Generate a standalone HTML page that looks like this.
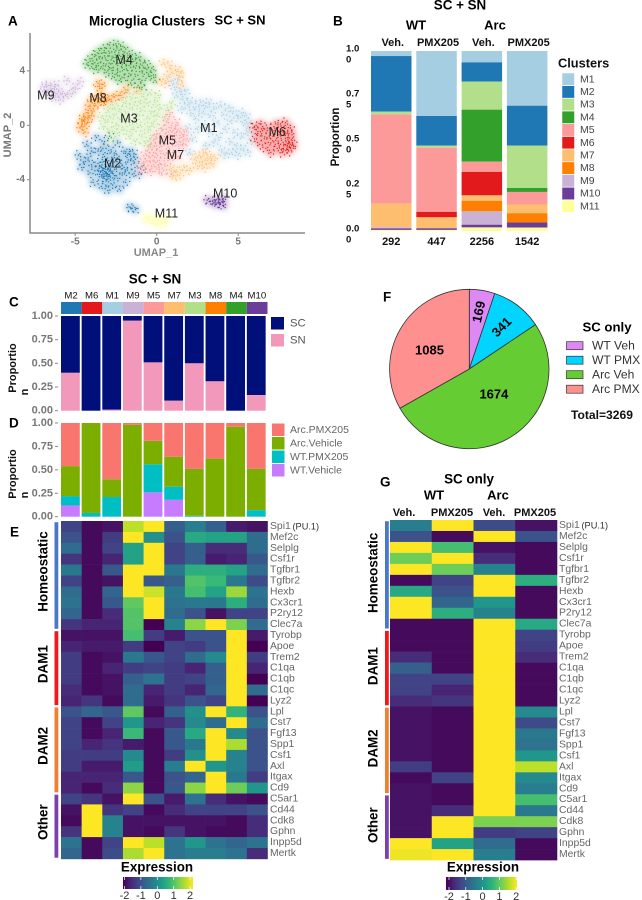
<!DOCTYPE html>
<html lang="en">
<head>
<meta charset="utf-8">
<title>Microglia clusters figure</title>
<style>
html,body{margin:0;padding:0;background:#fff;width:642px;height:900px;overflow:hidden}
svg{display:block;font-family:"Liberation Sans",sans-serif}
.letter{font-size:13.5px;font-weight:bold;fill:#000;dominant-baseline:central}
.title{font-size:13.4px;font-weight:bold;fill:#000;text-anchor:middle;dominant-baseline:central}
.col{font-size:11px;font-weight:bold;fill:#111;text-anchor:middle;dominant-baseline:central}
.gene{font-size:10.4px;fill:#666;dominant-baseline:central}
.leg{font-size:10.5px;fill:#444;dominant-baseline:central}
.tick{font-size:11px;font-weight:bold;fill:#777;text-anchor:end;dominant-baseline:central}
.um{font-size:12.5px;fill:#222;text-anchor:middle;dominant-baseline:central}
.rot{font-size:13.4px;font-weight:bold;fill:#000;text-anchor:middle;dominant-baseline:central}
.ax{font-size:11px;font-weight:bold;fill:#111;text-anchor:middle;dominant-baseline:central}
</style>
</head>
<body>
<svg id="root" xmlns="http://www.w3.org/2000/svg" width="642" height="900" viewBox="0 0 642 900">
<defs>
<linearGradient id="viridis-grad" x1="0" x2="1" y1="0" y2="0"></linearGradient>
<filter id="soft-cloud" x="-5%" y="-5%" width="110%" height="110%"><feGaussianBlur stdDeviation="2.6"/></filter>
<filter id="soft-speck" x="-5%" y="-5%" width="110%" height="110%"><feGaussianBlur stdDeviation="0.35"/></filter>
</defs>
<rect width="642" height="900" fill="#fff"/>

<text class="letter" x="8" y="21">A</text>
<text class="letter" x="333" y="21">B</text>
<text class="letter" x="9" y="302">C</text>
<text class="letter" x="9" y="423">D</text>
<text class="letter" x="10" y="532">E</text>
<text class="letter" x="383" y="297">F</text>
<text class="letter" x="380" y="482">G</text>

<text class="title" x="147" y="21">Microglia Clusters</text>
<text class="title" x="240" y="20" style="font-size:13px">SC + SN</text>
<text x="8" y="135" transform="rotate(-90 8 135)" style="font-size:11px;font-weight:bold;fill:#777;text-anchor:middle;dominant-baseline:central">UMAP_2</text>
<text x="156" y="253" style="font-size:11px;font-weight:bold;fill:#888;text-anchor:middle;dominant-baseline:central">UMAP_1</text>

<text class="title" x="460" y="5">SC + SN</text>
<text class="title" x="416" y="25" style="font-size:13px">WT</text>
<text class="title" x="495" y="25" style="font-size:13px">Arc</text>
<text x="336" y="137" transform="rotate(-90 336 137)" style="font-size:11.5px;font-weight:bold;fill:#111;text-anchor:middle;dominant-baseline:central">Proportion</text>
<text x="558" y="63" style="font-size:12.8px;font-weight:bold;fill:#111;dominant-baseline:central">Clusters</text>

<text class="title" x="155" y="279">SC + SN</text>
<text x="13" y="368" transform="rotate(-90 13 368)" style="font-size:11px;font-weight:bold;fill:#111;text-anchor:middle;dominant-baseline:central">Proportio</text>
<text x="25" y="392" transform="rotate(-90 25 392)" style="font-size:11px;font-weight:bold;fill:#111;text-anchor:middle;dominant-baseline:central">n</text>
<text x="13" y="474" transform="rotate(-90 13 474)" style="font-size:11px;font-weight:bold;fill:#111;text-anchor:middle;dominant-baseline:central">Proportio</text>
<text x="25" y="495" transform="rotate(-90 25 495)" style="font-size:11px;font-weight:bold;fill:#111;text-anchor:middle;dominant-baseline:central">n</text>

<text x="607" y="327" class="title" style="font-size:13.2px">SC only</text>
<text x="571" y="415" style="font-size:12.1px;font-weight:bold;fill:#111;dominant-baseline:central">Total=3269</text>

<text class="title" x="469" y="479">SC only</text>
<text class="title" x="434" y="495" style="font-size:13px">WT</text>
<text class="title" x="498" y="495" style="font-size:13px">Arc</text>

<text class="title" x="157" y="867">Expression</text>
<text class="title" x="483" y="867">Expression</text>

<g id="layer-umap"></g>
<g id="layer-b"></g>
<g id="layer-c"></g>
<g id="layer-d"></g>
<g id="layer-e"></g>
<g id="layer-f"></g>
<g id="layer-g"></g>
</svg>

<script>
/* ---------- data ---------- */
const clusterNames = ['M1','M2','M3','M4','M5','M6','M7','M8','M9','M10','M11'];

const umapM1 = [[0.9,3.2],[1.1,2.8],[1.2,2.2],[1.3,3.4],[1.5,2.6],[1.6,1.9],[1.8,2.5],[1.5,1.2],[1.9,1.5],[2.1,0.9],[2.1,1.8],[2.4,1.3],[2.4,0.5],[2.5,-0.3],[2.7,1.7],[2.8,0.9],[2.9,0],[3,1.4],[3.2,1.7],[3.3,0.7],[3.3,-0.5],[3.5,-1.3],[3.5,1.2],[3.7,0.2],[3.8,-0.9],[3.9,1.5],[4,-1.8],[4.1,0.8],[4.2,-0.3],[4.2,-2.2],[4.4,1.3],[4.5,0.3],[4.5,-1.2],[4.6,-2],[4.7,1],[4.8,-0.5],[4.9,-1.5],[5,0.5],[5,-2.2],[5.2,0.9],[5.2,-0.8],[5.3,-1.7],[5.4,0.1],[5.5,0.7],[5.6,-0.5],[5.6,-2],[5.7,0.2],[5.8,-1.2],[2,-2],[2.2,-1],[1.9,-0.2],[3,-1.5]];
const umapM2 = [[-4.8,-2.2],[-4.6,-3.1],[-4.3,-1.4],[-4.2,-2.4],[-4.1,-3.5],[-3.9,-4.2],[-3.7,-0.9],[-3.6,-1.9],[-3.6,-2.8],[-3.5,-3.6],[-3.4,-4.5],[-3.2,-1.2],[-3.2,-2.3],[-3.2,-3.2],[-3.1,-3.7],[-3.1,-4.1],[-3,-4.8],[-2.9,-0.8],[-2.8,-1.8],[-2.8,-2.7],[-2.8,-3.4],[-2.7,-4.4],[-2.4,-1.3],[-2.4,-2.4],[-2.4,-3.9],[-2.3,-4.7],[-2,-1.9],[-2,-3.1],[-1.9,-4.2],[-1.6,-1.9],[-1.6,-2.6],[-1.5,-3.6],[-1.4,-2.1],[-1.2,-3],[-3.3,-3.5],[-3,-3.2],[-3.4,-3.1],[-3,-3.8],[-3.6,-3.3],[-4.5,-2.7],[-4,-1.9],[-4,-2.9],[-3.3,-1.7],[-3.3,-2.7],[-3.3,-3.9],[-2.6,-2.2],[-2.6,-3.1],[-2.6,-3.7],[-2.2,-2.8],[-2.1,-3.5],[-1.8,-2.2],[-1.8,-3.3],[-1.3,-2.5],[-1.1,-3.6],[-0.8,-3.3],[-3.2,-3.4],[-3.1,-3.5],[-2.9,-3.6],[-1.7,-6],[-1.5,-6.1],[-1.3,-6.2]];
const umapM3 = [[-3.4,0.6],[-3.3,-0.1],[-3,1.1],[-3,0.4],[-2.9,-0.4],[-2.7,1.5],[-2.6,0.7],[-2.5,0],[-2.4,-0.6],[-2.3,1.2],[-2.2,2],[-2.1,0.4],[-2,-0.3],[-1.9,1.6],[-1.9,0.9],[-1.8,2.4],[-1.7,-0.8],[-1.6,0.2],[-1.5,1.3],[-1.5,2],[-1.4,-0.3],[-1.3,-1.2],[-1.2,0.7],[-1.1,1.7],[-1.1,2.5],[-1,0],[-0.9,-0.7],[-0.9,1.1],[-0.8,2.1],[-0.7,-1.3],[-0.6,0.5],[-0.6,1.6],[-0.5,-0.3],[-0.4,2.4],[-0.3,1],[-0.3,-0.9],[-0.2,0.1],[-0.1,1.7],[0,0.7],[0.1,2.2],[0.2,1.3],[0.3,-0.2],[0.5,0.5],[0.7,1.1],[0.9,1.6],[-2.8,-1],[-0.4,-1.5]];
const umapM4 = [[-4.3,4.5],[-4.1,4.9],[-4,4.3],[-3.8,5.2],[-3.8,4.6],[-3.7,4.1],[-3.5,5.5],[-3.5,4.9],[-3.4,4.3],[-3.2,5.7],[-3.2,5.1],[-3.1,4.5],[-3.1,3.9],[-2.9,5.9],[-2.9,5.3],[-2.8,4.8],[-2.8,4.2],[-2.7,3.6],[-2.5,6],[-2.5,5.5],[-2.5,5],[-2.4,4.4],[-2.4,3.9],[-2.3,3.3],[-2.2,5.8],[-2.1,5.2],[-2.1,4.6],[-2,4.1],[-2,3.5],[-1.9,5.6],[-1.8,5],[-1.7,4.4],[-1.7,3.8],[-1.6,3.1],[-1.5,5.2],[-1.4,4.7],[-1.3,4.2],[-1.3,3.6],[-1.2,2.8],[-1.1,5],[-1,4.5],[-0.9,4],[-0.9,3.3],[-0.7,4.6],[-0.6,4.1],[-0.5,3.6],[-0.3,4.2],[-0.2,3.7],[-0.1,3.3],[-0.9,2.8]];
const umapM5 = [[-0.9,-2.8],[-0.9,-3.3],[-0.7,-2.1],[-0.7,-3.1],[-0.6,-2.6],[-0.4,-1.6],[-0.4,-2.4],[-0.4,-3.4],[-0.2,-1.1],[-0.2,-2],[-0.2,-2.9],[0,-0.7],[0,-1.5],[0,-2.4],[0,-3.2],[0.2,-0.9],[0.2,-1.9],[0.2,-2.8],[0.3,-3.5],[0.4,-0.3],[0.4,-1.2],[0.5,-2.2],[0.5,-3],[0.6,0.3],[0.7,-0.7],[0.7,-1.6],[0.8,0.8],[0.8,-2.5],[0.9,-0.2],[1,-1.1],[1,-2],[1.1,-0.6],[1.2,0.2],[1.3,-1.4],[1.3,-0.3],[1.5,-0.9],[1.6,-1.5],[1.7,-0.5],[1.8,-1.1],[1.3,-2.3],[0.9,-3.6]];
const umapM6 = [[5.9,-0.2],[6,-1],[6.1,0],[6.2,-0.6],[6.3,-1.4],[6.4,0.1],[6.5,-0.4],[6.6,-1],[6.7,-1.7],[6.8,-0.2],[6.9,-0.8],[7,-1.3],[7,-2],[7.2,-0.4],[7.3,0.1],[7.3,-1.1],[7.4,-1.7],[7.5,-0.7],[7.6,0.1],[7.6,-1.4],[7.7,-2],[7.8,-0.4],[7.9,-1.1],[7.9,0.2],[8,-1.6],[8,-0.6],[8.1,-1.2],[8.1,-1.9],[8.2,-0.2],[8.2,-1.4],[8.3,-1.1],[8.3,-0.7],[8.4,-1.5],[8.2,-1.7],[7.8,-1.8]];
const umapM7 = [[2.3,-2.5],[2.5,-3],[2.6,-2.2],[2.8,-2.7],[2.9,-3.1],[3,-2],[3.1,-2.6],[3.3,-2.3],[3.4,-2.9],[3.6,-2.4],[1.2,-3.3],[1,-3.8],[0.9,-3.2],[1.4,-3.7],[1.7,-3.1],[2,-3.3],[0.6,3.6],[0.9,3.9],[1.3,4.1],[1.4,3.6],[0.6,3.1],[0.3,3.2],[1.5,3.8],[1.5,3],[0.8,4.4],[0.4,4.6],[-1.2,2.5]];
const umapM8 = [[-4.7,-0.2],[-4.6,0.3],[-4.5,0.6],[-4.4,0.1],[-4.4,-0.5],[-4.2,0.9],[-4.2,0.4],[-4,0.7],[-4.2,1.4],[-4,1.9],[-3.9,1.2],[-3.8,1.6],[-3.6,2],[-3.5,1.7],[-3.4,2.2],[-3.2,1.9],[-3.2,1.7],[-3,2],[-2.8,1.9],[-2.5,2.2],[-2.2,2.2],[-3.6,3.1],[-3.5,2.7],[-3.3,3],[-1.9,2.6],[-4.6,0],[-4.4,0.4],[-3.3,1.8]];
const umapM9 = [[-7,2.5],[-6.9,2.8],[-6.8,3],[-6.7,2.6],[-6.6,2.3],[-6.5,2.9],[-6.4,2.5],[-6.3,2.7],[-6.3,2],[-6.2,3],[-6.1,2.3],[-6,2.6],[-5.9,1.9],[-5.8,2.3],[-5.6,2.2],[-5.5,3.3],[-5.3,2.3],[-5.1,2.5],[-5,2.8],[-4.7,3.2]];
const umapM10 = [[3.1,-5.5],[3.3,-5.6],[3.5,-5.7],[3.6,-5.5],[3.7,-5.7],[3.8,-5.5],[3.9,-5.8],[4,-5.6],[4.1,-5.9],[4.1,-5.4],[3.8,-5.7],[3.6,-5.8]];
const umapM11 = [[-0.7,-6.9],[-0.4,-7],[-0.2,-7.1],[0,-6.9],[0,-7.2],[0.2,-7],[0.3,-7.3],[0.5,-7.1],[0.6,-6.9],[-0.5,-6.7]];
const umapXTicks = [-5,0,5];
const umapYTicks = [4,0,-4];

const compGroups = ['Veh.','PMX205','Veh.','PMX205'];
const compCounts = ['292','447','2256','1542'];
const compWtVeh = [0.028,0.309,0.015,0,0.496,0,0.131,0,0.007,0.008,0.006];
const compWtPmx = [0.361,0.165,0.011,0,0.357,0.03,0.061,0,0,0.009,0.006];
const compArcVeh = [0.063,0.107,0.156,0.289,0.057,0.13,0.03,0.059,0.074,0.015,0.02];
const compArcPmx = [0.304,0.222,0.235,0.022,0.07,0,0.048,0.052,0,0.028,0.019];
const compTicks = [1,0.75,0.5,0.25,0];
const compTickLabels = ['1.00','0.75','0.50','0.25','0.00'];

const orderedClusters = ['M2','M6','M1','M9','M5','M7','M3','M8','M4','M10'];
const snShare = [0.40,0,0.01,0.95,0.51,0.105,0.50,0.31,0,0.165];
const propTicks = [1,0.75,0.5,0.25,0];
const propTickLabels = ['1.00','0.75','0.50','0.25','0.00'];
const dWtVeh = [0.12,0,0,0,0.26,0.18,0,0,0,0];
const dWtPmx = [0.10,0.04,0.21,0,0.30,0.14,0.01,0,0,0.07];
const dArcVeh = [0.32,0.96,0.19,0.98,0.25,0.32,0.50,0.62,0.96,0.44];
const dArcPmx = [0.46,0,0.60,0.02,0.19,0.36,0.49,0.38,0.04,0.49];

const genes = ['Spi1','Mef2c','Selplg','Csf1r','Tgfbr1','Tgfbr2','Hexb','Cx3cr1','P2ry12','Clec7a','Tyrobp','Apoe','Trem2','C1qa','C1qb','C1qc','Lyz2','Lpl','Cst7','Fgf13','Spp1','Csf1','Axl','Itgax','Cd9','C5ar1','Cd44','Cdk8','Gphn','Inpp5d','Mertk'];
const geneGroups = ['Homeostatic','DAM1','DAM2','Other'];
const geneGroupSizes = [10,7,8,6];
const expressionTicks = [-2,-1,0,1,2];

const heatE = [
[-1.2,-1.9,-1.8,1.6,2,-0.8,-0.3,-0.8,-1.7,-1.8],
[-1.0,-1.9,-1.3,2,0,-1.0,0.4,0.3,0.3,-0.6],
[-0.6,-1.9,-1.2,0.3,2,-1.2,-0.8,-1.5,-1.5,-0.6],
[-1.4,-1.9,-1.6,0.3,2,-1.2,-0.8,-1.7,-1.6,-0.9],
[-0.4,-1.9,-0.9,2,2,-0.4,0.5,0.5,0.3,-0.6],
[-1.2,-1.9,-1.8,2,-0.9,-0.8,0.9,0.7,-0.4,-1.1],
[-0.6,-1.9,-0.7,2,1.7,-0.4,0.8,0.3,1.4,-0.5],
[-0.5,-1.9,-0.9,1,2,-0.5,-0.4,-0.4,0.5,-0.6],
[-0.7,-1.9,-1.5,0.9,2,-0.6,-1.0,-1.8,-1.2,-1.2],
[-1.4,-1.6,-1.6,0.9,-2,-0.2,1.3,2,1.2,-0.6],
[-1.8,-1.8,-1.8,0.8,-1.3,-1.7,-1,-1,2,-1.7],
[-1.6,-1.7,-1.7,-1.3,-2,-1.2,-1.3,-1,2,-2],
[-1.3,-1.9,-1.8,-0.4,-0.9,-1.2,-0.6,-0.1,2,-1.3],
[-1.3,-1.9,-1.6,-1.3,-1.2,-1.3,-1.6,-0.8,2,-1.6],
[-1.3,-1.9,-1.8,-0.8,-0.5,-1.3,-1.2,-0.8,2,-2],
[-1.5,-1.9,-1.8,-0.6,-1.6,-1.3,-1.6,-0.7,2,-0.6],
[-1.6,-1.4,-1.9,-0.6,-1.7,-1.4,-1,-1.2,2,-2],
[-1.0,-0.7,-0.9,1.0,-1.9,-0.8,0,2,0.6,-1.0],
[-1.2,-1.9,-1.2,0.1,-1.6,-1.4,-0.1,-0.6,2,-0.6],
[-1.2,-1.9,-1.6,0.7,-1.9,-0.9,0.4,2,-0.1,-1.0],
[-1.2,-1.6,-1.4,-1.7,-1.9,-0.9,-0.4,2,1.5,-1.0],
[-1.3,-1.3,-1.3,-0.1,-1.9,-1.3,0,2,-0.2,-1.0],
[-1.3,-1.7,-1.7,0.2,-1.9,-0.3,2,0.1,-0.2,-1.0],
[-1.6,-1.6,-1.6,-0.9,-1.9,-1,-0.7,2,-0.4,-1.3],
[-1.6,-1.9,-1.5,1.3,-1.9,-0.9,1.3,2,1.1,0.1],
[-1.2,-1.4,-1.8,2,-1,-1.7,-0.5,-1.5,-1.8,-1.9],
[-1.8,2,-1.4,-1.2,-1.9,-1.5,-1.2,-1.2,-1.2,-1.0],
[-1.9,2,-0.2,-1.8,-1.8,-1.8,-1.8,-1.8,-1.9,-1.5],
[-1.4,2,-0.2,-1.8,-1.9,-1.4,-1.8,-1.9,-1.9,-1.5],
[-0.5,-1.9,-1.2,2,1.6,-0.5,0.1,-0.5,-0.7,-0.5],
[-0.7,-1.9,-1.1,1.5,2,-0.5,-0.3,-0.3,-0.5,-1.5]
];

const conditionLabels = ['Veh.','PMX205','Veh.','PMX205'];
const heatG = [
[-0.3,2,-1.1,-1.8],[-1.0,-1.9,2,-1.0],[2,0.8,-1.8,-1.9],[1.1,2,-1.5,-1.9],[2,1.1,-0.2,-1.9],
[-1.9,-1.2,2,0.5],[0.4,-1.0,2,-1.9],[2,-0.7,0.1,-1.9],[2,0.5,-0.2,-1.9],[-1.9,-1.9,2,0.4],
[-1.9,-1.9,2,-1.2],[-1.9,-1.9,2,-1.3],[-1.5,-1.9,2,-1.5],[-0.8,-1.9,2,-1.9],[-1.2,-1.2,2,-1.9],
[-1.2,-1.6,2,-1.9],[-1.5,-1.4,2,-1.9],[-1.8,-1.9,2,-0.1],[-1.8,-1.9,2,-1.1],[-1.8,-1.9,2,-0.4],
[-1.8,-1.9,2,-0.5],[-1.8,-1.9,2,0.1],[-1.3,-1.9,2,1.6],[-1.9,-1.2,2,-0.1],[-1.8,-1.9,2,-0.3],
[-1.8,-1.9,2,0.8],[-1.8,-1.5,2,-0.4],[-1.8,2,1.2,1.2],[-1.8,2,-1.3,-1.2],[2,0.3,-0.6,-1.9],[1.9,2,-0.3,-1.9]
];

const pieLabels = ['WT Veh','WT PMX','Arc Veh','Arc PMX'];
const pieValues = [169,341,1674,1085];
const regionLabels = ['SC','SN'];
const dLegendLabels = ['Arc.PMX205','Arc.Vehicle','WT.PMX205','WT.Vehicle'];

/* ---------- style ---------- */
const paired = {M1:'#a6cee3',M2:'#1f78b4',M3:'#b2df8a',M4:'#33a02c',M5:'#fb9a99',M6:'#e31a1c',M7:'#fdbf6f',M8:'#ff7f00',M9:'#cab2d6',M10:'#6a3d9a',M11:'#ffff99'};
const viridisStops = ['#440154','#482878','#3e4a89','#31688e','#26828e','#1f9e89','#35b779','#6ece58','#b5de2b','#fde725'];
const regionColors = ['#000f7a','#f299bb'];
const dColors = ['#f8766d','#7cae00','#00bfc4','#c77cff'];
const groupColors = ['#4a78c8','#f01818','#f08030','#7b3fb0'];
const pieColors = ['#dd88f5','#00d4ff','#66cc33','#ff9090'];
/* stipple glyph drawn around each UMAP point: offset rings in px, not data */
const speckRadii = [0, 2.6, 4.1, 3.2, 4.8, 2.1];
const speckAngles = [0, 35, 110, 185, 250, 315];

/* ---------- helpers ---------- */
const NS = 'http://www.w3.org/2000/svg';
function mk(tag, attrs, parent) {
  const n = document.createElementNS(NS, tag);
  for (const k in attrs) n.setAttribute(k, attrs[k]);
  parent.appendChild(n);
  return n;
}
function mkText(parent, x, y, str, cls, attrs) {
  const n = mk('text', Object.assign({x: x, y: y, class: cls}, attrs || {}), parent);
  n.textContent = str;
  return n;
}
function hex2rgb(h) { return [1,3,5].map(i => parseInt(h.substr(i,2),16)); }
function viridis(v) {
  const t = Math.max(0, Math.min(1, (v + 2) / 4)) * (viridisStops.length - 1);
  const i = Math.min(Math.floor(t), viridisStops.length - 2);
  const f = t - i, a = hex2rgb(viridisStops[i]), b = hex2rgb(viridisStops[i+1]);
  return 'rgb(' + a.map((c,k) => Math.round(c + (b[k]-c)*f)).join(',') + ')';
}

const gradient = document.getElementById('viridis-grad');
viridisStops.forEach((c,i) => mk('stop', {offset: i/(viridisStops.length-1), 'stop-color': c}, gradient));

/* ---------- A: UMAP ---------- */
const xUmap = v => 156.7 + 16.3 * v;
const yUmap = v => 125.3 - 13.6 * v;
function speckPath(px, py, idx) {
  let d = '';
  speckRadii.forEach((r,k) => {
    const a = (speckAngles[k] + idx * 47) * Math.PI / 180;
    const sx = px + r * Math.cos(a), sy = py + r * Math.sin(a), q = 0.7;
    d += 'M' + (sx - q).toFixed(1) + ' ' + sy.toFixed(1) + 'a' + q + ' ' + q + ' 0 1 0 ' + (2*q) + ' 0a' + q + ' ' + q + ' 0 1 0 ' + (-2*q) + ' 0';
  });
  return d;
}
(function drawUmap() {
  const g = document.getElementById('layer-umap');
  const sets = [umapM1,umapM2,umapM3,umapM4,umapM5,umapM6,umapM7,umapM8,umapM9,umapM10,umapM11];
  const clouds = mk('g', {filter: 'url(#soft-cloud)', opacity: 0.36}, g);
  
  
  const specks = mk('g', {filter: 'url(#soft-speck)'}, g);
  
  
  sets.forEach((pts,i) => {
    const col = paired[clusterNames[i]];
    pts.forEach((p,j) => {
      const halo = mk('circle', {cx: xUmap(p[0]), cy: yUmap(p[1]), r: 4.5, fill: col}, clouds);
      
      
      const dot = mk('path', {d: speckPath(xUmap(p[0]), yUmap(p[1]), j), fill: col, opacity: 0.95}, specks);
      
      
    });
  });
  const yAxis = mk('line', {x1: 30, x2: 30, y1: 33, y2: 233.5, stroke: '#888', 'stroke-width': 1.5}, g);
  
  
  const xAxis = mk('line', {x1: 29.5, x2: 305, y1: 233, y2: 233, stroke: '#888', 'stroke-width': 1.5}, g);
  
  
  umapXTicks.forEach(t => {
    const m = mk('line', {x1: xUmap(t), x2: xUmap(t), y1: 233, y2: 236, stroke: '#888'}, g);
    
    
    const l = mkText(g, xUmap(t), 242, String(t), 'tick', {'text-anchor': 'middle', style: 'text-anchor:middle;font-size:10px'});
    
    
  });
  umapYTicks.forEach(t => {
    const m = mk('line', {x1: 27, x2: 30, y1: yUmap(t), y2: yUmap(t), stroke: '#888'}, g);
    
    
    const l = mkText(g, 25, yUmap(t), String(t), 'tick', {style: 'font-size:10px'});
    
    
  });
  const centers = {M4:[-2,4.8],M9:[-6.8,2.2],M8:[-3.6,2],M3:[-1.7,0.5],M5:[0.65,-1.1],M7:[1.15,-2.2],M1:[3.2,-0.2],M6:[7.4,-0.5],M2:[-2.7,-2.8],M10:[4.2,-5],M11:[0.6,-6.5]};
  Object.keys(centers).forEach(k => {
    const l = mkText(g, xUmap(centers[k][0]), yUmap(centers[k][1]), k, 'um');
    
    
  });
})();

/* ---------- B: composition ---------- */
const yComp = p => 231 - 180 * p;
const xComp = i => 371 + 45.3 * i;
(function drawComp() {
  const g = document.getElementById('layer-b');
  const bw = 40.5;
  [compWtVeh, compWtPmx, compArcVeh, compArcPmx].forEach((vals,i) => {
    let acc = 1;
    vals.forEach((v,k) => {
      if (v <= 0) return;
      const seg = mk('rect', {x: xComp(i), y: yComp(acc), width: bw, height: yComp(acc - v) - yComp(acc), fill: paired[clusterNames[k]]}, g);
      
      
      acc -= v;
    });
    const h = mkText(g, xComp(i) + bw/2 + 1.5, 43, compGroups[i], 'col');
    
    
    const n = mkText(g, xComp(i) + bw/2, 242, compCounts[i], 'col');
    
    
  });
  compTicks.forEach((t,i) => {
    const s = compTickLabels[i], y = yComp(t) - 2;
    const a = mkText(g, 346, y, s.slice(0,3), 'ax', {style: 'text-anchor:start;font-size:9.6px'});
    
    
    const b = mkText(g, 346, y + 11, s.slice(3), 'ax', {style: 'text-anchor:start;font-size:9.6px'});
    
    
  });
  clusterNames.forEach((name,i) => {
    const sw = mk('rect', {x: 562, y: 73 + 12.7*i, width: 12.5, height: 12.4, fill: paired[name], stroke: '#fff', 'stroke-width': 0.5}, g);
    
    
    const t = mkText(g, 580, 79.3 + 12.7*i, name, 'leg');
    
    
  });
})();

/* ---------- C / D shared scales ---------- */
const xProp = i => 61 + 20.65 * i;
const propBarW = 18.8;
const yRegion = p => 410.7 - 94.7 * p;
const yGroup = p => 516.7 - 93.7 * p;

(function drawRegion() {
  const g = document.getElementById('layer-c');
  orderedClusters.forEach((name,i) => {
    const s = mk('rect', {x: xProp(i), y: 302, width: 20.65, height: 12, fill: paired[name]}, g);
    
    
    const l = mkText(g, xProp(i) + 10, 296, name, 'leg', {style: 'text-anchor:middle;font-size:9.6px;fill:#111'});
    
    
    const sc = mk('rect', {x: xProp(i), y: yRegion(1), width: propBarW, height: yRegion(snShare[i]) - yRegion(1), fill: regionColors[0]}, g);
    
    
    if (snShare[i] > 0) {
      const sn = mk('rect', {x: xProp(i), y: yRegion(snShare[i]), width: propBarW, height: yRegion(0) - yRegion(snShare[i]), fill: regionColors[1]}, g);
      
      
    }
  });
  propTicks.forEach((t,i) => {
    const l = mkText(g, 53, yRegion(t), propTickLabels[i], 'tick');
    
    
    const m = mk('line', {x1: 55, x2: 58, y1: yRegion(t), y2: yRegion(t), stroke: '#888'}, g);
    
    
  });
  regionLabels.forEach((name,i) => {
    const sw = mk('rect', {x: 271, y: 317 + 17*i, width: 13, height: 12.5, fill: regionColors[i]}, g);
    
    
    const t = mkText(g, 290, 323.5 + 17*i, name, 'leg', {style: 'font-size:11.3px;fill:#555'});
    
    
  });
})();

(function drawGroup() {
  const g = document.getElementById('layer-d');
  orderedClusters.forEach((name,i) => {
    let acc = 0;
    [dWtVeh, dWtPmx, dArcVeh, dArcPmx].forEach((arr,k) => {
      const v = arr[i];
      if (v <= 0) return;
      const seg = mk('rect', {x: xProp(i), y: yGroup(acc + v), width: propBarW, height: yGroup(acc) - yGroup(acc + v), fill: dColors[3-k]}, g);
      
      
      acc += v;
    });
  });
  propTicks.forEach((t,i) => {
    const l = mkText(g, 53, yGroup(t), propTickLabels[i], 'tick');
    
    
    const m = mk('line', {x1: 55, x2: 58, y1: yGroup(t), y2: yGroup(t), stroke: '#888'}, g);
    
    
  });
  dLegendLabels.forEach((name,i) => {
    const sw = mk('rect', {x: 272, y: 423.5 + 13.5*i, width: 12.5, height: 12.5, fill: dColors[i]}, g);
    
    
    const t = mkText(g, 290, 429.8 + 13.5*i, name, 'leg', {style: 'fill:#666'});
    
    
  });
})();

/* ---------- heatmaps ---------- */
function drawHeatmap(g, matrix, left, width, top, rowH, barX, rotX, labelX, shift) {
  const cols = matrix[0].length, colW = width / cols;
  matrix.forEach((row,r) => {
    row.forEach((v,c) => {
      const cell = mk('rect', {x: left + c*colW, y: top + r*rowH, width: colW + 0.3, height: rowH + 0.3, fill: viridis(v)}, g);
      
      
    });
    const label = mkText(g, labelX, top + (r + 0.5)*rowH, genes[r], 'gene');
    
    
    if (r === 0) {
      const extra = mkText(g, labelX + 22.5, top + 0.5*rowH, '(PU.1)', 'gene', {style: 'font-size:9.2px;fill:#333'});
      
      
    }
  });
  let start = 0;
  geneGroups.forEach((name,i) => {
    const n = geneGroupSizes[i];
    const y0 = top + start*rowH + 1.2, y1 = top + (start+n)*rowH - 1.2;
    const bar = mk('rect', {x: barX, y: y0, width: 3.8, height: y1 - y0, fill: groupColors[i]}, g);
    
    
    const cy = (y0 + y1)/2 + shift;
    const t = mkText(g, rotX, cy, name, 'rot', {transform: 'rotate(-90 ' + rotX + ' ' + cy + ')'});
    
    
    start += n;
  });
}
function drawColorbar(g, x, y, w, h, labelX0, labelStep) {
  const rect = mk('rect', {x: x, y: y, width: w, height: h, fill: 'url(#viridis-grad)'}, g);
  
  
  expressionTicks.forEach(t => {
    const px = labelX0 + (t + 2)*labelStep;
    [[y, y + 3],[y + h - 3, y + h]].forEach(s => {
      const m = mk('line', {x1: px, x2: px, y1: s[0], y2: s[1], stroke: '#fff', 'stroke-width': 0.7}, g);
      
      
    });
    const l = mkText(g, px, y + h + 7, String(t), 'leg', {style: 'text-anchor:middle;font-size:11px;fill:#333'});
    
    
  });
}

(function () {
  const g = document.getElementById('layer-e');
  drawHeatmap(g, heatE, 61, 206.5, 521, 10.9, 54.5, 43, 270, -4);
  drawColorbar(g, 123, 877, 70, 12, 124.5, 16.4);
})();
(function () {
  const g = document.getElementById('layer-g');
  drawHeatmap(g, heatG, 390, 167, 520, 10.97, 385, 373, 559, -2);
  drawColorbar(g, 446, 877, 71, 13, 449, 16.8);
  conditionLabels.forEach((name,i) => {
    const l = mkText(g, [404,452,494,535][i], 513, name, 'col');
    
    
  });
})();

/* ---------- F: pie ---------- */
(function drawPie() {
  const g = document.getElementById('layer-f');
  const cx = 469.3, cy = 369, R = 79.7;
  const total = pieValues.reduce((a,b) => a + b, 0);
  const pt = (deg, r) => [cx + r*Math.sin(deg*Math.PI/180), cy - r*Math.cos(deg*Math.PI/180)];
  const labelR = [58, 53, 35, 44];
  const labelShift = [0, 0, -13, -5];
  const labelRot = [-78, -45, 0, 0];
  let ang = 0;
  pieValues.forEach((v,i) => {
    const sweep = v / total * 360, end = ang + sweep;
    const a = pt(ang, R), b = pt(end, R);
    const d = 'M' + cx + ' ' + cy + 'L' + a[0] + ' ' + a[1] + 'A' + R + ' ' + R + ' 0 ' + (sweep > 180 ? 1 : 0) + ' 1 ' + b[0] + ' ' + b[1] + 'Z';
    const s = mk('path', {d: d, fill: pieColors[i], stroke: '#333', 'stroke-width': 0.8}, g);
    
    
    ang = end;
  });
  ang = 0;
  pieValues.forEach((v,i) => {
    const sweep = v / total * 360;
    const p = pt(ang + sweep/2 + labelShift[i], labelR[i]);
    const t = mkText(g, p[0], p[1], String(v), 'title', {style: 'font-size:13px', transform: 'rotate(' + labelRot[i] + ' ' + p[0] + ' ' + p[1] + ')'});
    
    
    ang += sweep;
    const sw = mk('rect', {x: 566.5, y: 341.7 + 14.5*i, width: 16.5, height: 8, fill: pieColors[i], stroke: '#333', 'stroke-width': 0.7}, g);
    
    
    const l = mkText(g, 592, 345.7 + 14.5*i, pieLabels[i], 'leg', {style: 'font-size:12.1px;fill:#333'});
    
    
  });
})();
</script>
</body>
</html>
